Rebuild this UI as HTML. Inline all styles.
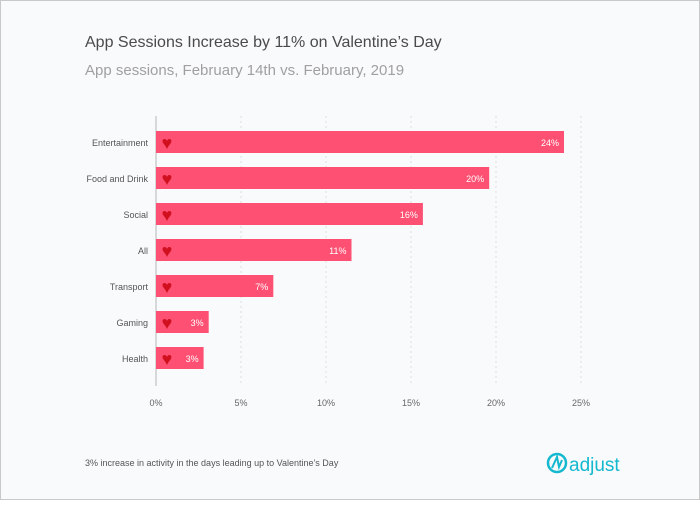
<!DOCTYPE html>
<html><head><meta charset="utf-8"><style>
body{margin:0;width:700px;height:500px;overflow:hidden;background:#fff;font-family:"Liberation Sans",sans-serif}
#frame{position:absolute;left:0;top:0;width:698px;height:498px;border:1px solid #c9c9c9;background:#f9fafc}
</style></head><body>
<div id="frame">
<svg width="700" height="500">
<text x="84" y="46" font-size="16" fill="#4a4a4a">App Sessions Increase by 11% on Valentine’s Day</text>
<text x="84" y="74" font-size="15" fill="#a0a0a0">App sessions, February 14th vs. February, 2019</text>
<g id="grid"></g><g id="bars"></g><g id="xt"></g>
<text x="84" y="465" font-size="9" fill="#555">3% increase in activity in the days leading up to Valentine’s Day</text>
<g>
<circle cx="556" cy="462" r="9" fill="none" stroke="#14b8cf" stroke-width="2.5"/>
<path d="M551 467 L556 456 L558 466 L561 459" fill="none" stroke="#14b8cf" stroke-width="2"/>
<text x="568" y="470" font-size="19" fill="#14b8cf">adjust</text>
</g>
</svg></div>
<script>
const categories=["Entertainment","Food and Drink","Social","All","Transport","Gaming","Health"];
const values=[24,19.6,15.7,11.5,6.9,3.1,2.8];
const labels=["24%","20%","16%","11%","7%","3%","3%"];
const ticks=[0,5,10,15,20,25];
const NS="http://www.w3.org/2000/svg";
const x=v=>155+v*17;
const y=i=>130+i*36;
function mk(t,a,p){const e=document.createElementNS(NS,t);for(const k in a)e.setAttribute(k,a[k]);p.appendChild(e);return e;}
const g=document.getElementById('grid'),b=document.getElementById('bars'),xt=document.getElementById('xt');
ticks.forEach(t=>{
 const l=mk('line',{x1:x(t),x2:x(t),y1:115,y2:385,stroke:t?'#ddd':'#d8d8d8','stroke-width':t?1:2,'stroke-dasharray':t?'2,3':''},g);
 
 
 const tx=mk('text',{x:x(t),y:405,'font-size':9,fill:'#666','text-anchor':'middle'},xt);tx.textContent=t+'%';
 
 
});
categories.forEach((c,i)=>{
 const lb=mk('text',{x:147,y:y(i)+15,'font-size':9,fill:'#555','text-anchor':'end'},b);lb.textContent=c;
 
 
 const r=mk('rect',{x:x(0),y:y(i),width:x(values[i])-x(0),height:22,fill:'#fd5072'},b);
 
 
 const h=mk('text',{x:166,y:y(i)+18,'font-size':18,fill:'#d0101e','text-anchor':'middle'},b);h.textContent='♥';
 
 
 const v=mk('text',{x:x(values[i])-5,y:y(i)+15,'font-size':9,fill:'#fff','text-anchor':'end'},b);v.textContent=labels[i];
 
 
});
</script></body></html>
